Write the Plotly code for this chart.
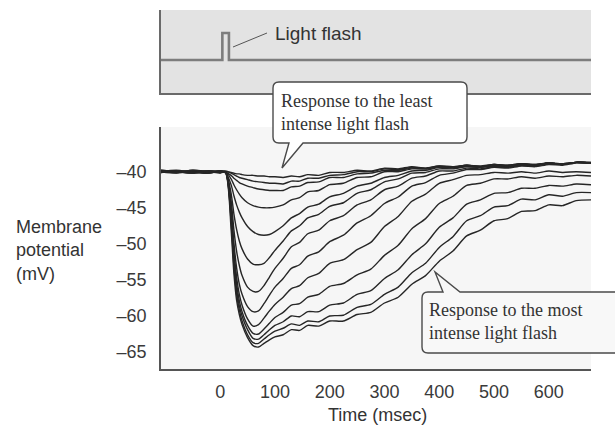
import plotly.graph_objects as go

# Time base of the recordings (ms after the flash)
time_ms = [-108, -80, -50, -20, 0, 10, 20, 25, 30, 35, 40, 50, 60, 70, 80, 90, 100, 115, 130, 145,
           160, 180, 200, 225, 250, 275, 300, 325, 350, 375, 400, 425, 450, 475, 500, 525, 550,
           575, 600, 625, 650, 677]

# Membrane potential (mV), from the least to the most intense flash
resp_01 = [-39.9, -40.0, -40.1, -40.0, -39.9, -40.0, -40.1, -40.2, -40.3, -40.3, -40.4, -40.5, -40.5, -40.6,
           -40.6, -40.7, -40.7, -40.8, -40.6, -40.7, -40.4, -40.5, -40.1, -40.1, -39.8, -39.9, -39.5, -39.6,
           -39.3, -39.5, -39.2, -39.3, -39.1, -39.2, -39.0, -39.1, -38.9, -39.0, -38.8, -38.9, -38.7, -38.7]
resp_02 = [-40.0, -39.9, -40.0, -40.1, -40.0, -39.9, -40.2, -40.4, -40.6, -40.8, -40.9, -41.1, -41.3, -41.4,
           -41.5, -41.6, -41.6, -41.7, -41.3, -41.3, -40.9, -40.9, -40.5, -40.4, -40.0, -40.0, -39.6, -39.7,
           -39.4, -39.5, -39.2, -39.4, -39.1, -39.3, -39.0, -39.1, -38.9, -39.0, -38.8, -38.9, -38.7, -38.7]
resp_03 = [-39.9, -40.0, -40.1, -39.9, -40.0, -40.1, -40.5, -40.9, -41.2, -41.5, -41.7, -42.0, -42.2, -42.4,
           -42.5, -42.6, -42.6, -42.6, -42.1, -42.0, -41.5, -41.4, -40.8, -40.8, -40.3, -40.2, -39.8, -39.8,
           -39.5, -39.6, -39.3, -39.4, -39.1, -39.3, -39.0, -39.2, -38.9, -39.1, -38.8, -39.0, -38.7, -38.8]
resp_04 = [-40.0, -40.1, -39.8, -40.0, -40.1, -40.0, -41.0, -41.8, -42.5, -43.1, -43.6, -44.3, -44.7, -44.9,
           -45.0, -45.0, -44.9, -44.6, -43.9, -43.6, -42.8, -42.6, -41.8, -41.6, -40.8, -40.7, -40.0, -40.0,
           -39.6, -39.6, -39.3, -39.4, -39.2, -39.3, -39.1, -39.2, -38.9, -39.1, -38.8, -39.0, -38.7, -38.8]
resp_05 = [-40.1, -39.9, -40.0, -40.1, -39.9, -40.1, -41.8, -43.3, -44.6, -45.6, -46.4, -47.6, -48.3, -48.7,
           -48.8, -48.7, -48.3, -47.5, -46.4, -45.8, -44.9, -44.5, -43.5, -43.0, -42.0, -41.6, -40.8, -40.5,
           -39.9, -39.8, -39.4, -39.5, -39.3, -39.4, -39.1, -39.2, -39.0, -39.1, -38.8, -39.0, -38.7, -38.8]
resp_06 = [-39.9, -40.0, -40.2, -39.9, -40.1, -40.0, -43.0, -45.8, -48.0, -49.6, -50.7, -52.1, -52.8, -52.9,
           -52.7, -51.9, -50.9, -49.6, -48.2, -47.5, -46.4, -45.9, -44.8, -44.3, -43.0, -42.5, -41.4, -41.0,
           -40.2, -40.1, -39.6, -39.6, -39.3, -39.4, -39.2, -39.3, -39.0, -39.1, -38.8, -39.0, -38.7, -38.8]
resp_07 = [-40.0, -40.2, -39.9, -40.1, -40.0, -40.1, -44.0, -48.0, -51.0, -53.0, -54.4, -56.0, -56.6, -56.6,
           -55.8, -54.6, -53.4, -52.0, -50.4, -49.8, -48.6, -48.1, -46.8, -46.1, -44.6, -43.9, -42.5, -42.0,
           -40.9, -40.6, -39.9, -39.9, -39.5, -39.6, -39.3, -39.4, -39.1, -39.2, -38.9, -39.0, -38.7, -38.8]
resp_08 = [-39.8, -40.0, -40.1, -39.9, -40.1, -40.0, -45.0, -49.8, -53.3, -55.6, -57.0, -58.7, -59.4, -59.3,
           -58.3, -57.1, -56.0, -54.8, -53.4, -52.9, -51.7, -51.1, -49.7, -48.8, -47.1, -46.1, -44.4, -43.5,
           -42.0, -41.5, -40.5, -40.2, -39.7, -39.7, -39.4, -39.5, -39.2, -39.3, -39.0, -39.1, -38.8, -38.8]
resp_09 = [-40.1, -39.9, -40.0, -40.2, -39.9, -40.1, -45.5, -50.8, -54.6, -57.0, -58.5, -60.4, -61.4, -61.2,
           -60.3, -59.3, -58.4, -57.4, -56.2, -55.8, -54.7, -54.1, -52.7, -52.2, -50.8, -49.8, -47.6, -46.2,
           -44.1, -43.1, -41.6, -41.1, -40.5, -40.4, -40.1, -40.2, -40.0, -40.2, -39.9, -40.1, -40.0, -40.1]
resp_10 = [-39.9, -40.1, -39.9, -40.0, -40.2, -40.0, -46.0, -51.5, -55.5, -57.9, -59.4, -61.3, -62.4, -62.5,
           -61.8, -61.0, -60.2, -59.5, -58.5, -58.3, -57.4, -57.0, -55.9, -55.5, -54.3, -53.5, -51.6, -50.2,
           -47.9, -46.5, -44.4, -43.4, -41.9, -41.6, -41.0, -41.0, -40.7, -40.9, -40.6, -40.7, -40.5, -40.6]
resp_11 = [-40.0, -39.8, -40.1, -40.2, -39.9, -40.1, -46.5, -52.3, -56.3, -58.6, -60.0, -61.9, -63.1, -63.2,
           -62.6, -61.9, -61.3, -60.8, -60.0, -60.1, -59.4, -59.4, -58.5, -58.2, -57.0, -56.5, -54.8, -53.6,
           -51.5, -50.0, -47.7, -46.4, -44.5, -43.9, -43.0, -42.9, -42.3, -42.3, -41.9, -42.0, -41.7, -41.8]
resp_12 = [-39.8, -40.0, -40.2, -39.9, -40.0, -40.1, -47.0, -53.0, -57.0, -59.2, -60.7, -62.6, -63.7, -63.8,
           -63.2, -62.6, -62.1, -61.7, -61.1, -61.3, -60.7, -60.8, -60.0, -59.9, -58.8, -58.4, -57.0, -56.0,
           -54.0, -52.7, -50.5, -49.0, -46.8, -46.1, -44.9, -44.7, -43.8, -43.9, -43.2, -43.4, -42.9, -42.9]
resp_13 = [-39.9, -40.1, -39.8, -40.0, -39.9, -40.2, -48.0, -54.0, -57.8, -59.8, -61.2, -63.0, -64.1, -64.3,
           -63.8, -63.3, -62.9, -62.6, -61.9, -62.0, -61.3, -61.4, -60.7, -60.7, -59.8, -59.5, -58.2, -57.4,
           -55.6, -54.4, -52.4, -51.0, -48.9, -48.1, -46.8, -46.5, -45.5, -45.4, -44.6, -44.7, -44.0, -43.9]

responses = [resp_01, resp_02, resp_03, resp_04, resp_05, resp_06, resp_07,
             resp_08, resp_09, resp_10, resp_11, resp_12, resp_13]

# Stimulus monitor: a brief flash
flash_t = [-108, 4, 4, 16, 16, 677]
flash_on = [0, 0, 1, 1, 0, 0]

x_ticks = [0, 100, 200, 300, 400, 500, 600]
x_tick_text = ["0", "100", "200", "300", "400", "500", "600"]
y_ticks = [-40, -45, -50, -55, -60, -65]
y_tick_text = ["\u201340", "\u201345", "\u201350", "\u201355", "\u201360", "\u201365"]

W, H = 615, 426
L, R, T, B = 161, 591, 10, 369


def px(X):
    return (X - L) / (R - L)


def py(Y):
    return (B - Y) / (B - T)


def pt(X, Y):
    return f"{px(X):.5f},{py(Y):.5f}"


fig = go.Figure()

for v in responses:
    fig.add_trace(go.Scatter(
        x=time_ms, y=v, mode="lines",
        line=dict(color="#262626", width=1.4, shape="spline", smoothing=0.7),
        xaxis="x", yaxis="y", showlegend=False, hoverinfo="skip"))

fig.add_trace(go.Scatter(
    x=flash_t, y=flash_on, mode="lines",
    line=dict(color="#7d7d7d", width=2.6),
    xaxis="x2", yaxis="y2", showlegend=False, hoverinfo="skip"))

main_top = (B - 127) / (B - T)
panel_bottom = (B - 93) / (B - T)

axis_font = dict(family="Liberation Sans, Arial, sans-serif", size=18, color="#3a3a3a")

fig.update_layout(
    width=W, height=H,
    margin=dict(l=L, r=W - R, t=T, b=H - B),
    paper_bgcolor="white",
    plot_bgcolor="#f6f6f6",
    showlegend=False,
    xaxis=dict(domain=[0, 1], range=[-108, 677], anchor="y",
               tickmode="array", tickvals=x_ticks, ticktext=x_tick_text,
               ticks="", showgrid=False, zeroline=False,
               showline=True, linecolor="#555555", linewidth=1.5,
               tickfont=axis_font, ticklabelstandoff=6),
    yaxis=dict(domain=[0, main_top], range=[-67.35, -33.8], anchor="x",
               tickmode="array", tickvals=y_ticks, ticktext=y_tick_text,
               ticks="", showgrid=False, zeroline=False,
               showline=True, linecolor="#555555", linewidth=1.5,
               tickfont=axis_font, ticklabelstandoff=9),
    xaxis2=dict(domain=[0, 1], range=[-108, 677], anchor="y2",
                showticklabels=False, ticks="", showgrid=False, zeroline=False,
                showline=True, linecolor="#6a6a6a", linewidth=1.5),
    yaxis2=dict(domain=[panel_bottom, 1], range=[-1.222, 1.852], anchor="x2",
                showticklabels=False, ticks="", showgrid=False, zeroline=False,
                showline=True, linecolor="#6a6a6a", linewidth=1.5),
)

shapes = []
# grey backdrop of the stimulus panel
shapes.append(dict(type="rect", xref="x2 domain", yref="y2 domain", x0=0, x1=1, y0=0, y1=1,
                   fillcolor="#e3e3e3", line=dict(width=0), layer="below"))
# leader line for the flash label
shapes.append(dict(type="line", xref="paper", yref="paper",
                   x0=px(233), y0=py(47), x1=px(267), y1=py(33),
                   line=dict(color="#555555", width=1)))

r = 6
# callout: least intense flash (pointer below)
x0, y0, x1, y1 = 273, 82, 467, 143
p1 = (f"M{pt(x0 + r, y0)} L{pt(x1 - r, y0)} Q{pt(x1, y0)} {pt(x1, y0 + r)} "
      f"L{pt(x1, y1 - r)} Q{pt(x1, y1)} {pt(x1 - r, y1)} "
      f"L{pt(303, y1)} L{pt(282, 168)} L{pt(289, y1)} "
      f"L{pt(x0 + r, y1)} Q{pt(x0, y1)} {pt(x0, y1 - r)} "
      f"L{pt(x0, y0 + r)} Q{pt(x0, y0)} {pt(x0 + r, y0)} Z")
shapes.append(dict(type="path", xref="paper", yref="paper", path=p1,
                   fillcolor="white", line=dict(color="#4a4a4a", width=1.4), layer="above"))
# callout: most intense flash (pointer above)
x0, y0, x1, y1 = 422, 292, 640, 353
p2 = (f"M{pt(x0 + r, y0)} L{pt(443, y0)} L{pt(435, 272)} L{pt(460, y0)} "
      f"L{pt(x1, y0)} L{pt(x1, y1)} L{pt(x0 + r, y1)} Q{pt(x0, y1)} {pt(x0, y1 - r)} "
      f"L{pt(x0, y0 + r)} Q{pt(x0, y0)} {pt(x0 + r, y0)} Z")
shapes.append(dict(type="path", xref="paper", yref="paper", path=p2,
                   fillcolor="#f8f8f8", line=dict(color="#4a4a4a", width=1.4), layer="above"))
fig.update_layout(shapes=shapes)

serif = dict(family="Liberation Serif, Times New Roman, serif", size=18, color="#333333")
sans = dict(family="Liberation Sans, Arial, sans-serif", size=18, color="#333333")
sans_big = dict(family="Liberation Sans, Arial, sans-serif", size=19, color="#333333")

fig.add_annotation(xref="paper", yref="paper", x=px(273), y=py(33), xanchor="left", yanchor="middle",
                   text="Light flash", showarrow=False, font=sans_big)
fig.add_annotation(xref="paper", yref="paper", x=px(279), y=py(112), xanchor="left", yanchor="middle",
                   text="Response to the least<br>intense light flash", align="left",
                   showarrow=False, font=serif)
fig.add_annotation(xref="paper", yref="paper", x=px(427), y=py(321), xanchor="left", yanchor="middle",
                   text="Response to the most<br>intense light flash", align="left",
                   showarrow=False, font=serif)
fig.add_annotation(xref="paper", yref="paper", x=px(14), y=py(250), xanchor="left", yanchor="middle",
                   text="Membrane<br>potential<br>(mV)", align="left", showarrow=False, font=sans)
fig.add_annotation(xref="paper", yref="paper", x=px(377), y=py(415), xanchor="center", yanchor="middle",
                   text="Time (msec)", showarrow=False, font=sans)

fig.write_html("out.html")
